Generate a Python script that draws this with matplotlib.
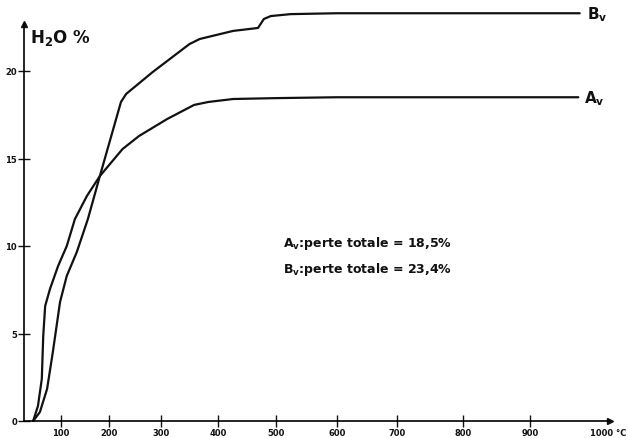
import numpy as np
import matplotlib
matplotlib.use("Agg")
import matplotlib.pyplot as plt

plt.rcParams["mathtext.fontset"] = "dejavusans"

# water loss (%) versus temperature (°C)
T_AV = [42, 52, 60, 63, 67, 77, 94, 112, 129, 154, 181, 226, 258, 311, 358, 383, 426, 500, 600, 700, 800, 900, 969]
AV = [0, 0.86, 2.4, 4.86, 6.57, 7.54, 8.86, 10.0, 11.54, 12.86, 14.0, 15.54, 16.29, 17.26, 18.06, 18.23,
      18.4, 18.45, 18.5, 18.5, 18.5, 18.5, 18.5]
T_BV = [42, 56, 71, 83, 98, 112, 133, 156, 181, 223, 233, 284, 350, 368, 426, 469, 479, 491, 524, 600, 700,
        800, 900, 971]
BV = [0, 0.51, 1.83, 3.94, 6.8, 8.29, 9.66, 11.54, 14.0, 18.23, 18.69, 19.94, 21.54, 21.83, 22.29, 22.46,
      22.97, 23.14, 23.25, 23.3, 23.3, 23.3, 23.3, 23.3]

X_TICKS = [100, 200, 300, 400, 500, 600, 700, 800, 900]
Y_TICKS = [0, 5, 10, 15, 20]
NOTE_AV = r"$\mathbf{A_v}$:perte totale = 18,5%"
NOTE_BV = r"$\mathbf{B_v}$:perte totale = 23,4%"

# the temperature axis was drawn by hand: graduations are not evenly spaced
GRAD_DEG = np.array([0, 100, 200, 300, 400, 500, 600, 700, 800, 900, 1000], float)
GRAD_POS = np.array([13, 61, 109, 161, 218, 276, 337, 397, 463, 530, 600], float)


def _pwl(x, xs, ys):
    x = np.asarray(x, float)
    y = np.interp(x, xs, ys)
    s_lo = (ys[1] - ys[0]) / (xs[1] - xs[0])
    s_hi = (ys[-1] - ys[-2]) / (xs[-1] - xs[-2])
    y = np.where(x < xs[0], ys[0] + (x - xs[0]) * s_lo, y)
    y = np.where(x > xs[-1], ys[-1] + (x - xs[-1]) * s_hi, y)
    return y


def fwd(x):
    return _pwl(x, GRAD_DEG, GRAD_POS)


def inv(p):
    return _pwl(p, GRAD_POS, GRAD_DEG)


fig = plt.figure(figsize=(6.28, 4.39), dpi=100)
ax = fig.add_axes([0, 0, 1, 1])
ax.set_xscale("function", functions=(fwd, inv))
ax.set_xlim(float(inv(0)), float(inv(628)))
ax.set_ylim(-17 / 17.5, 422 / 17.5)

x0 = float(inv(24))
x_end = float(inv(610))
y_end = 22.7

ink = "#111111"
ax.plot(T_AV, AV, color=ink, lw=1.6, solid_capstyle="round", solid_joinstyle="round")
ax.plot(T_BV, BV, color=ink, lw=1.6, solid_capstyle="round", solid_joinstyle="round")

ax.text(T_AV[-1] + 8, AV[-1], r"$\mathbf{A_v}$", fontsize=11, ha="left", va="center", color=ink)
ax.text(T_BV[-1] + 10, BV[-1], r"$\mathbf{B_v}$", fontsize=11, ha="left", va="center", color=ink)

# axes with arrow heads
for side in ["top", "right"]:
    ax.spines[side].set_visible(False)
ax.spines["left"].set_position(("data", x0))
ax.spines["bottom"].set_position(("data", 0))
ax.spines["left"].set_bounds(0, y_end)
ax.spines["bottom"].set_bounds(x0, x_end)
ax.spines["left"].set_linewidth(1.2)
ax.spines["bottom"].set_linewidth(1.2)
ax.plot([x_end], [0], marker=">", ms=5, color=ink, clip_on=False)
ax.plot([x0], [y_end], marker="^", ms=4, color=ink, clip_on=False)

ax.set_xticks(X_TICKS)
ax.set_xticklabels([str(t) for t in X_TICKS])
ax.set_yticks(Y_TICKS)
ax.set_yticklabels([str(t) for t in Y_TICKS])
ax.xaxis.set_minor_locator(matplotlib.ticker.NullLocator())
ax.tick_params(direction="inout", length=8, width=1, labelsize=6, colors=ink, pad=1)
for lab in ax.get_xticklabels() + ax.get_yticklabels():
    lab.set_fontweight("bold")

ax.text(0.998, 0.013, "1000 °C", transform=ax.transAxes, fontsize=6, fontweight="bold",
        ha="right", va="center", color=ink)
ax.text(0.047, 0.913, r"$\mathbf{H_2O}$ %", transform=ax.transAxes, fontsize=12, fontweight="bold",
        ha="left", va="center", color=ink)

ax.text(0.451, 0.446, NOTE_AV, transform=ax.transAxes, fontsize=9, fontweight="bold",
        ha="left", va="center", color=ink)
ax.text(0.451, 0.385, NOTE_BV, transform=ax.transAxes, fontsize=9, fontweight="bold",
        ha="left", va="center", color=ink)

fig.savefig("out.png", dpi=100, facecolor="white")
